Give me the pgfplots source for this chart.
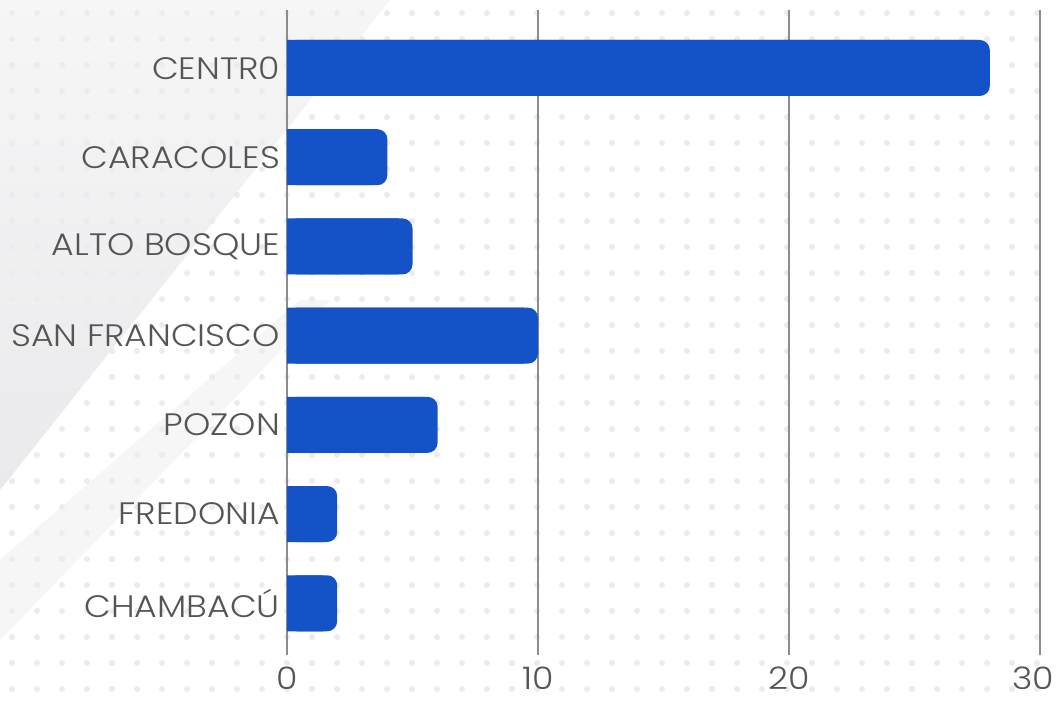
\documentclass[border=0pt]{standalone}
\usepackage{fontspec}
\setmainfont{Poppins Light}[FakeStretch=1.12]
\usepackage{pgfplots}
\usepackage{pgfplotstable}
\pgfplotsset{compat=1.18}
\usetikzlibrary{patterns,backgrounds,calc}
\definecolor{barblue}{RGB}{20,82,200}
\definecolor{txt}{RGB}{85,85,85}
\definecolor{gridc}{RGB}{140,140,140}
\definecolor{dotc}{RGB}{235,236,242}
\definecolor{shadeA}{RGB}{246,246,247}
\definecolor{shadeB}{RGB}{234,234,236}
\pgfdeclarepatternformonly{bgdots}{\pgfqpoint{-1pt}{-1pt}}{\pgfqpoint{13.5pt}{14pt}}{\pgfqpoint{12.5pt}{13pt}}{\pgfpathcircle{\pgfqpoint{6pt}{6pt}}{1.5pt}\pgfusepath{fill}}

\pgfplotstableread{
y v
0 28
1 4
2 5
3 10
4 6
5 2
6 2
}\data

\begin{document}
\begin{tikzpicture}
\begin{axis}[
  scale only axis, width=376.5pt, height=322.5pt,
  xmin=0, xmax=30, ymin=-0.65, ymax=6.58, y dir=reverse,
  xtick={0,10,20,30}, ytick={0,...,6},
  xticklabels={0,10,20,{\hspace*{-7pt}30}},
  yticklabels={CENTR0,CARACOLES,ALTO BOSQUE,SAN FRANCISCO,POZON,FREDONIA,CHAMBACÚ},
  xmajorgrids, ymajorgrids=false,
  grid style={draw=gridc, line width=1pt},
  axis line style={draw=none}, major tick length=0pt,
  ticklabel style={font=\fontsize{15.5}{18}\selectfont, text=txt},
  /pgf/number format/assume math mode=true,
  xticklabel style={anchor=base, yshift=-17pt},
  yticklabel style={anchor=east},
]
\coordinate (BL) at (axis cs:0,6.58);
\coordinate (TR) at (axis cs:30,-0.65);
\addplot[xbar, bar shift=0pt, bar width=28pt, fill=barblue, draw=none, xshift=-7pt] table[x=v,y=y]{\data};
\addplot[xbar, bar shift=0pt, bar width=28pt, fill=barblue, draw=none, rounded corners=5pt] table[x=v,y=y]{\data};
\end{axis}
\coordinate (O) at ($(BL|-TR)+(-143.5pt,5pt)$);
\coordinate (E) at ($(TR|-BL)+(8.5pt,-23pt)$);
\begin{scope}[on background layer]
\fill[white] (O) rectangle (E);
\begin{scope}[shift={(O)}, x=0.5pt, y=-0.5pt]
\shade[top color=shadeA, bottom color=shadeB] (0,0) -- (390,0) -- (0,490) -- cycle;
\fill[shadeA] (0,560) -- (300,300) -- (330,300) -- (0,640) -- cycle;
\end{scope}
\fill[pattern=bgdots, pattern color=dotc] (O) rectangle (E);
\end{scope}
\pgfresetboundingbox
\path[use as bounding box] (O) rectangle (E);
\end{tikzpicture}
\end{document}
